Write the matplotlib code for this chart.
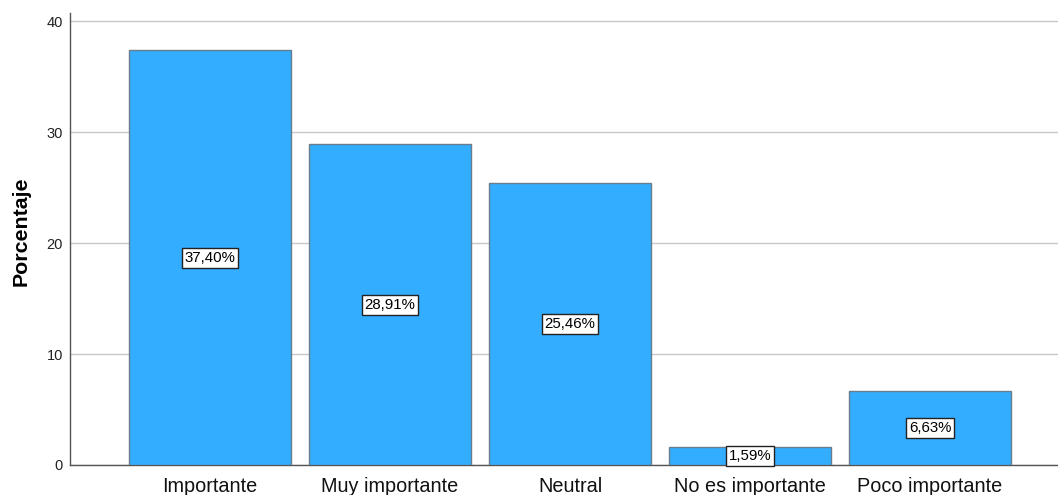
import matplotlib
matplotlib.use("Agg")
import matplotlib.pyplot as plt

categories = ["Importante", "Muy importante", "Neutral", "No es importante", "Poco importante"]
values = [37.40, 28.91, 25.46, 1.59, 6.63]
labels = ["37,40%", "28,91%", "25,46%", "1,59%", "6,63%"]
yticks = [0, 10, 20, 30, 40]

plt.rcParams['font.family'] = ['Liberation Sans', 'DejaVu Sans']

fig = plt.figure(figsize=(10.58, 4.95), dpi=100)
ax = fig.add_axes([70/1058, 30/495, (1058-70)/1058, (465-13)/495])

x = list(range(len(categories)))
ax.bar(x, values, width=0.9, color="#33ADFF", edgecolor="#6a7d8c", linewidth=1, zorder=3)
for xi, v, lab in zip(x, values, labels):
    ax.text(xi, v/2, lab, ha="center", va="center", fontsize=10.8, zorder=4,
            bbox=dict(boxstyle="square,pad=0.2", facecolor="white", edgecolor="#222222", linewidth=1))

ax.set_xlim(-0.778, 4.711)
ax.set_ylim(0, 40.75)
ax.set_yticks(yticks)
ax.set_yticklabels([str(t) for t in yticks], fontsize=10.5, color="#222222")
ax.set_xticks(x)
ax.set_xticklabels(categories, fontsize=14.3, color="#111111")
ax.tick_params(axis="x", length=0, pad=9)
ax.tick_params(axis="y", length=0, pad=5)
ax.grid(axis="y", color="#c8c8c8", linewidth=1, zorder=0)
for s in ["top", "right"]:
    ax.spines[s].set_visible(False)
for s in ["left", "bottom"]:
    ax.spines[s].set_color("#555555")
    ax.spines[s].set_linewidth(1)
ax.set_ylabel("Porcentaje", fontsize=15.4, fontweight="bold")
ax.yaxis.set_label_coords(-0.040, 0.518)

fig.savefig("out.png", dpi=100)
